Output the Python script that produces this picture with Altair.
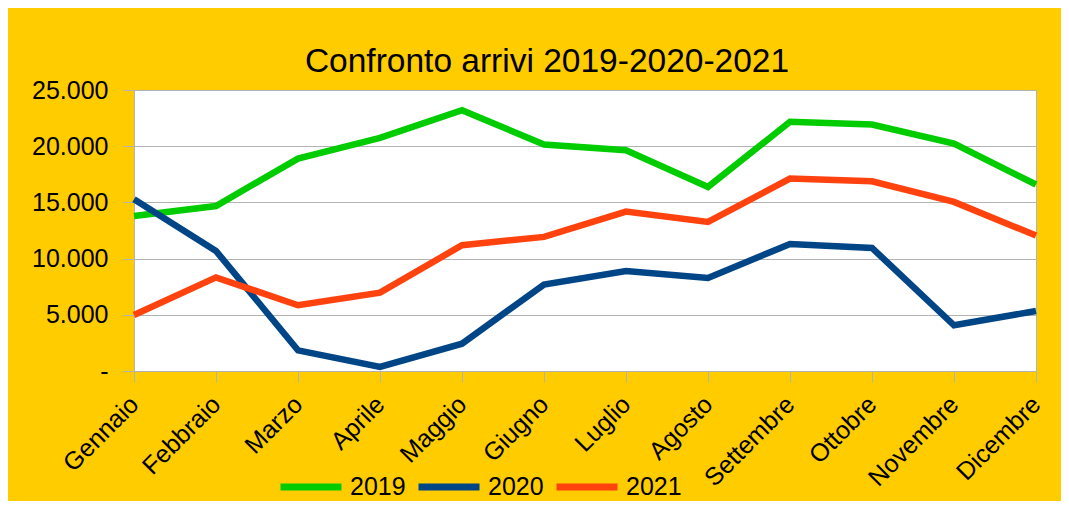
import altair as alt
import pandas as pd

months = ["Gennaio", "Febbraio", "Marzo", "Aprile", "Maggio", "Giugno",
          "Luglio", "Agosto", "Settembre", "Ottobre", "Novembre", "Dicembre"]
v2019 = [13790, 14680, 18900, 20740, 23200, 20150, 19640, 16380, 22170, 21930, 20240, 16590]
v2020 = [15270, 10680, 1840, 360, 2430, 7690, 8900, 8280, 11300, 10950, 4070, 5340]
v2021 = [4980, 8330, 5850, 6970, 11190, 11930, 14180, 13260, 17120, 16880, 15040, 12050]
series = ["2019", "2020", "2021"]
colors = ["#00CC00", "#004586", "#FF420E"]
y_ticks = [0, 5000, 10000, 15000, 20000, 25000]

rows = []
for name, vals in zip(series, [v2019, v2020, v2021]):
    for m, v in zip(months, vals):
        rows.append({"Mese": m, "Anno": name, "Arrivi": v})
df = pd.DataFrame(rows)

FONT = "Liberation Sans"
GREY = "#b3b3b3"

chart = alt.Chart(df).mark_line(strokeWidth=6.5).encode(
    x=alt.X("Mese:N", sort=months, scale=alt.Scale(padding=0),
            axis=alt.Axis(title=None, labelAngle=-45, labelFontSize=25, labelFont=FONT,
                          labelColor="black", tickColor=GREY, tickSize=11, domainColor=GREY,
                          grid=False, labelPadding=18, labelAlign="right",
                          labelBaseline="middle")),
    y=alt.Y("Arrivi:Q", scale=alt.Scale(domain=[0, 25000], nice=False),
            axis=alt.Axis(title=None, values=y_ticks, labelFontSize=25, labelFont=FONT,
                          labelColor="black", tickColor=GREY, tickSize=11, domainColor=GREY,
                          gridColor=GREY, labelPadding=15,
                          labelExpr="datum.value == 0 ? '-' : replace(format(datum.value, ','), ',', '.')")),
    color=alt.Color("Anno:N", scale=alt.Scale(domain=series, range=colors),
                    legend=alt.Legend(title=None, orient="none", direction="horizontal",
                                      legendX=143, legendY=363, symbolType="stroke",
                                      symbolSize=3721, symbolStrokeWidth=7,
                                      labelFontSize=25, labelFont=FONT, labelColor="black",
                                      labelOffset=5, columnPadding=-2, padding=0)),
).properties(
    width=902, height=281,
    title=alt.TitleParams("Confronto arrivi 2019-2020-2021", fontSize=33.5, font=FONT,
                          fontWeight="normal", color="black", anchor="middle", dx=-38, offset=-1),
    background="#FFCC00",
    padding={"left": 126, "top": 82, "right": 25, "bottom": 130},
    autosize=alt.AutoSizeParams(type="none"),
).configure_view(stroke=GREY, fill="white")

chart.save("out.html", embed_options={"renderer": "svg", "actions": False})
